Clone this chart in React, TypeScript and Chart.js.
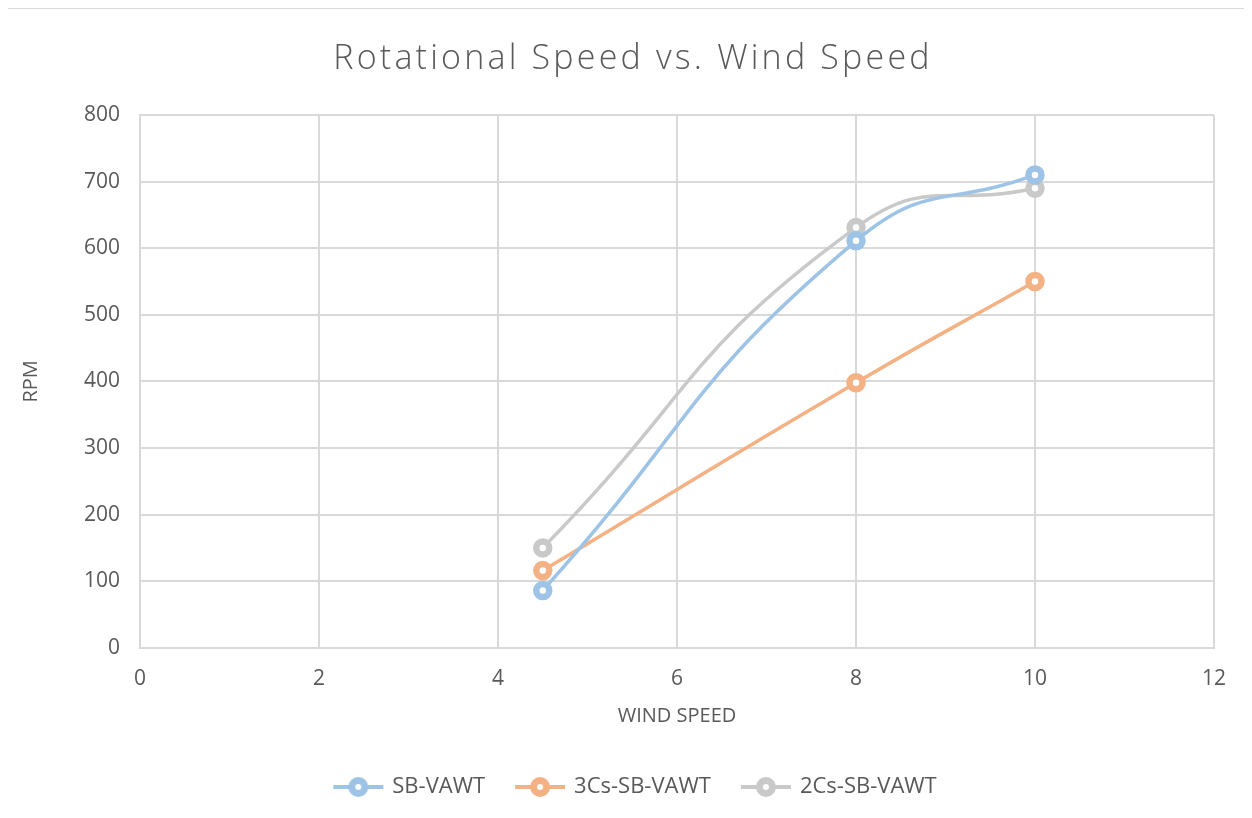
import React, { useEffect, useRef } from "react";
import { Chart, registerables } from "chart.js";

Chart.register(...registerables);

const windSpeed = [4.5, 8, 10];
const sbVawt = [86, 611, 710];
const cs3SbVawt = [116, 398, 550];
const cs2SbVawt = [150, 631, 690];
const seriesNames = ["SB-VAWT", "3Cs-SB-VAWT", "2Cs-SB-VAWT"];
const seriesColors = ["#9dc3e6", "#f4b183", "#c9c9c9"];
const xTicks = [0, 2, 4, 6, 8, 10, 12];
const yTicks = [0, 100, 200, 300, 400, 500, 600, 700, 800];
const chartTitle = "Rotational Speed vs. Wind Speed";

const FONT = "'Open Sans', sans-serif";
const TEXT = "#595959";
const GRID = "#d9d9d9";

function legendIcon(color: string): HTMLCanvasElement {
  const c = document.createElement("canvas");
  c.width = 52;
  c.height = 22;
  const ctx = c.getContext("2d")!;
  ctx.strokeStyle = color;
  ctx.lineWidth = 4;
  ctx.beginPath();
  ctx.moveTo(1, 11);
  ctx.lineTo(51, 11);
  ctx.stroke();
  ctx.beginPath();
  ctx.arc(26, 11, 6.5, 0, Math.PI * 2);
  ctx.fillStyle = "#ffffff";
  ctx.fill();
  ctx.lineWidth = 7;
  ctx.stroke();
  return c;
}

const titlePlugin = {
  id: "spacedTitle",
  afterLayout(chart: any) {
    // center the legend across the full canvas width
    if (chart.legend) {
      chart.legend.left = 0;
      chart.legend.right = chart.width + 8;
    }
  },
  afterDraw(chart: any) {
    const ctx = chart.ctx;
    ctx.save();
    ctx.font = `300 34px ${FONT}`;
    (ctx as any).letterSpacing = "3.2px";
    ctx.fillStyle = TEXT;
    ctx.textAlign = "center";
    ctx.textBaseline = "alphabetic";
    ctx.fillText(chartTitle, chart.width / 2 + 1, 60);
    ctx.restore();
  },
};

export default function App() {
  const ref = useRef<HTMLCanvasElement>(null);
  useEffect(() => {
    const all = [sbVawt, cs3SbVawt, cs2SbVawt];
    const icons = seriesColors.map(legendIcon);
    const chart = new Chart(ref.current!, {
      type: "scatter",
      data: {
        datasets: all.map((vals, i) => ({
          label: seriesNames[i],
          data: windSpeed.map((x, j) => ({ x, y: vals[j] })),
          showLine: true,
          borderColor: seriesColors[i],
          backgroundColor: "#ffffff",
          borderWidth: 3.5,
          tension: 0.5,
          pointRadius: 6.5,
          pointBorderWidth: 6.5,
          pointBackgroundColor: "#ffffff",
          pointBorderColor: seriesColors[i],
          pointHoverRadius: 6.5,
        })),
      },
      plugins: [titlePlugin],
      options: {
        animation: false,
        responsive: true,
        maintainAspectRatio: false,
        layout: { padding: { left: 11, right: 42, top: 106, bottom: 21 } },
        plugins: {
          title: { display: false },
          legend: {
            position: "bottom",
            labels: {
              usePointStyle: true,
              pointStyleWidth: 46,
              color: TEXT,
              font: { family: FONT, size: 22 },
              padding: 32,
              generateLabels: (ch: any) =>
                ch.data.datasets.map((d: any, i: number) => ({
                  text: d.label,
                  pointStyle: icons[i],
                  fillStyle: "#fff",
                  strokeStyle: seriesColors[i],
                  fontColor: TEXT,
                  lineWidth: 0,
                  hidden: false,
                  datasetIndex: i,
                })),
            },
          },
          tooltip: { enabled: false },
        },
        scales: {
          x: {
            type: "linear",
            min: 0,
            max: 12,
            afterBuildTicks: (axis: any) => {
              axis.ticks = xTicks.map((v) => ({ value: v }));
            },
            ticks: { color: TEXT, font: { family: FONT, size: 21 }, padding: 19 },
            grid: { color: GRID, lineWidth: 2, drawTicks: false },
            border: { color: GRID, width: 2 },
            title: {
              display: true,
              text: "WIND SPEED",
              color: TEXT,
              font: { family: FONT, size: 20, lineHeight: 1 },
              padding: { top: -5, bottom: 18 },
            },
          },
          y: {
            type: "linear",
            min: 0,
            max: 800,
            afterBuildTicks: (axis: any) => {
              axis.ticks = yTicks.map((v) => ({ value: v }));
            },
            ticks: { color: TEXT, font: { family: FONT, size: 21 }, padding: 20 },
            grid: { color: GRID, lineWidth: 2, drawTicks: false },
            border: { color: GRID, width: 2 },
            title: {
              display: true,
              text: "RPM",
              color: TEXT,
              font: { family: FONT, size: 20 },
              padding: { top: 0, bottom: 21 },
            },
          },
        },
      },
    });
    return () => chart.destroy();
  }, []);
  return (
    <div
      style={{
        width: 1250,
        height: 822,
        border: "1px solid #d9d9d9",
        boxSizing: "border-box",
        marginLeft: -1,
        position: "relative",
        background: "#fff",
      }}
    >
      <canvas ref={ref} />
    </div>
  );
}
